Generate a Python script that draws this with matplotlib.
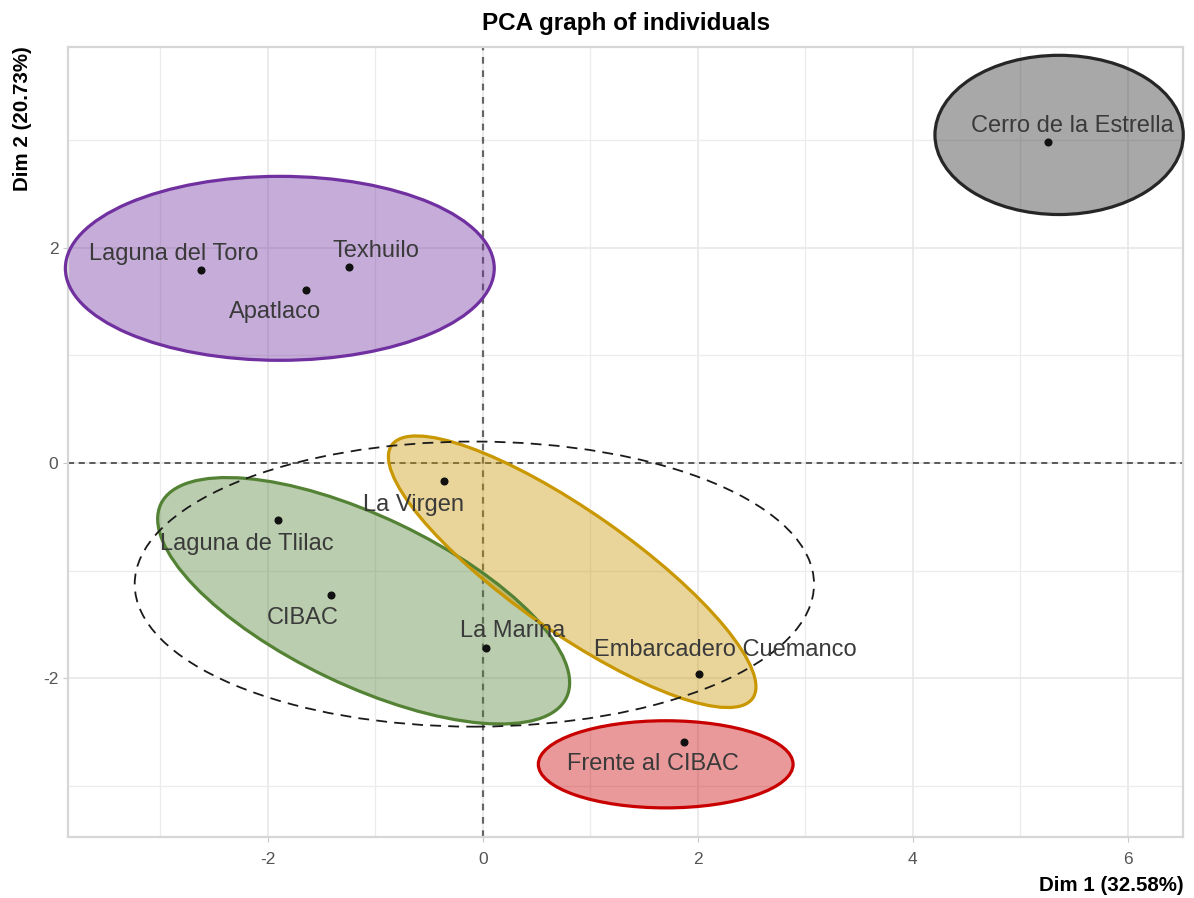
import matplotlib.pyplot as plt
from matplotlib.patches import Ellipse
import numpy as np

plt.rcParams['font.family'] = ['Liberation Sans', 'DejaVu Sans']
plt.rcParams['axes.unicode_minus'] = False

# PCA coordinates of the sites
sites = ['Laguna del Toro', 'Texhuilo', 'Apatlaco', 'Cerro de la Estrella',
         'La Virgen', 'Laguna de Tlilac', 'CIBAC', 'La Marina',
         'Embarcadero Cuemanco', 'Frente al CIBAC']
dim1 = [-2.62, -1.25, -1.65, 5.26, -0.36, -1.91, -1.41, 0.03, 2.01, 1.87]
dim2 = [1.79, 1.82, 1.61, 2.98, -0.17, -0.53, -1.23, -1.72, -1.96, -2.59]

groups = ['purple', 'gray', 'green', 'yellow', 'red']
group_edge = ['#7030a0', '#262626', '#548235', '#c99700', '#c80000']

# ellipse per group: centre x, centre y, width, height, angle
group_ellipse = [(-1.89, 1.81, 3.99, 1.71, 0),
                 (5.36, 3.05, 2.31, 1.48, 0),
                 (-1.11, -1.28, 4.18, 1.57, -25.5),
                 (0.83, -1.01, 4.10, 1.12, -35),
                 (1.70, -2.80, 2.37, 0.81, 0)]
overall_ellipse = (-0.08, -1.125, 6.32, 2.65, 0)

var1, var2 = 32.58, 20.73

# text offsets (points) so labels sit beside their dots
lab_off = [(-20, 12), (20, 12), (-22, -16), (17, 12), (-22, -17),
           (-22, -17), (-21, -16), (19, 12), (19, 17), (-22, -16)]

fig = plt.figure(figsize=(11.94, 8.98), dpi=100)
ax = fig.add_axes([0.057, 0.068, 0.934, 0.880])

ax.set_xlim(-3.86, 6.515)
ax.set_ylim(-3.475, 3.87)

ax.set_xticks([-2, 0, 2, 4, 6])
ax.set_yticks([-2, 0, 2])
ax.set_xticks([-3, -1, 1, 3, 5], minor=True)
ax.set_yticks([-3, -1, 1, 3], minor=True)
ax.grid(which='major', color='#e6e6e6', linewidth=1.1, zorder=0)
ax.grid(which='minor', color='#ececec', linewidth=0.9, zorder=0)
ax.set_axisbelow(True)
ax.tick_params(which='major', length=3.5, color='#c8c8c8', labelcolor='#555555', labelsize=12.5)
ax.tick_params(axis='x', which='major', pad=7)
ax.tick_params(which='minor', length=0)
for s in ax.spines.values():
    s.set_color('#d6d6d6')
    s.set_linewidth(1.6)

ax.axhline(0, color='#333333', linestyle=(0, (4, 3)), linewidth=1.1, zorder=1)
ax.axvline(0, color='#666666', linestyle=(0, (3, 3)), linewidth=1.6, zorder=1)

for (cx, cy, w, h, ang), col in zip(group_ellipse, group_edge):
    ax.add_patch(Ellipse((cx, cy), w, h, angle=ang, facecolor=col, alpha=0.4,
                         edgecolor='none', zorder=2, clip_on=False))
    ax.add_patch(Ellipse((cx, cy), w, h, angle=ang, facecolor='none',
                         edgecolor=col, linewidth=2.3, zorder=3, clip_on=False))

cx, cy, w, h, ang = overall_ellipse
ax.add_patch(Ellipse((cx, cy), w, h, angle=ang, facecolor='none', edgecolor='#1a1a1a',
                     linewidth=1.3, linestyle=(0, (6, 4)), zorder=4))

ax.plot(dim1, dim2, 'o', color='#111111', markersize=4.8, zorder=5)
for name, x, y, off in zip(sites, dim1, dim2, lab_off):
    ax.annotate(name, (x, y), xytext=off, textcoords='offset points',
                ha='center', va='center', fontsize=17, color='#3a3a3a', zorder=6)

ax.set_title('PCA graph of individuals', fontsize=17.5, fontweight='bold', pad=12)
ax.set_xlabel('Dim 1 (%.2f%%)' % var1, loc='right', fontsize=14.8, fontweight='bold', labelpad=7)
ax.set_ylabel('Dim 2 (%.2f%%)' % var2, loc='top', fontsize=14.8, fontweight='bold', labelpad=8)

fig.savefig('out.png', dpi=100)
